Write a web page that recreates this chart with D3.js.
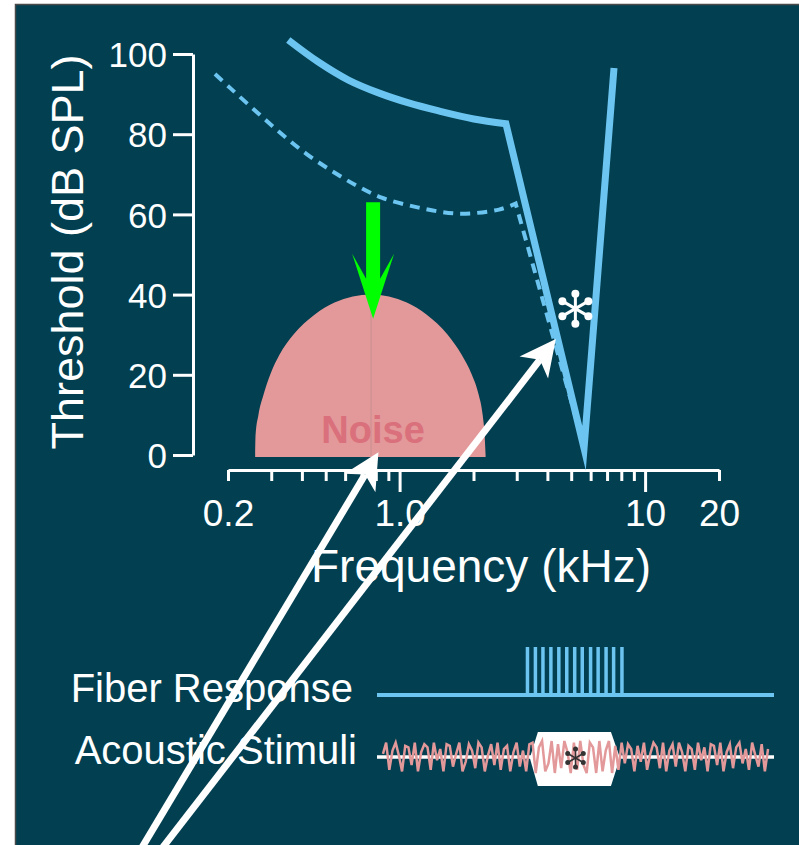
<!DOCTYPE html>
<html>
<head>
<meta charset="utf-8">
<script src="https://cdn.jsdelivr.net/npm/d3@7"></script>
<style>
  body { margin: 0; background: #fff; }
  svg text { font-family: "Liberation Sans", Arial, Helvetica, sans-serif; fill: #fff; }
</style>
</head>
<body>
<div id="container"></div>
<script>
/* DATA */
// tuning curve of the fiber in quiet: [kHz, dB SPL]  (smooth part, then straight V)
const quietCurve = [[0.352,103.5],[0.467,98.0],[0.619,93.5],[0.821,90.3],[1.088,87.8],[1.443,85.8],[2.005,83.8],[2.71,82.6]]
const quietTip = [[5.64,1.7],[7.47,96.5]]
// dashed curve
const dashedCurve = [[0.177,95.0],[0.206,91.3],[0.261,85.6],[0.330,80.1],[0.417,75.1],[0.528,70.9],[0.667,67.2],[0.845,64.2],[1.196,61.7],[1.74,60.2],[2.54,61.2],[2.97,62.7]]
const dashedTip = [[5.64,2.0]]
// noise band spectrum
const noiseSpectrum = [[0.258,0],[0.259,5],[0.266,10],[0.279,15],[0.297,20],[0.324,25],[0.369,30],[0.450,35],[0.543,38],[0.765,40],[1.07,38],[1.29,35],[1.57,30],[1.79,25],[1.97,20],[2.10,15],[2.18,10],[2.22,5],[2.24,0]]
const noisePeak = 0.765

const yTicks = [0, 20, 40, 60, 80, 100]
const xLabelled = [0.2, 1, 10, 20]
const xLabelText = ["0.2", "1.0", "10", "20"]
const xMinor = [0.3, 0.4, 0.5, 0.6, 0.7, 0.8, 0.9, 2, 3, 4, 5, 6, 7, 8, 9]
const xLong = [1, 10]

// annotations (kHz, dB)
const greenArrow = { f: 0.78, from: 63, to: 34 }
const star = { f: 5.2, db: 36.5 }
const whiteArrows = [
  { f0: 0.089, db0: -98, f1: 0.82, db1: 0.7 },
  { f0: 0.108, db0: -98, f1: 4.33, db1: 28.9 }
]

// lower panel, time in ms
const spikeTimes = [37.9, 39.9, 41.8, 43.8, 45.8, 47.8, 49.8, 51.7, 53.8, 55.7, 57.7, 59.6, 61.7]
const toneWindow = [38.5, 61.2]
const waveStart = 1.5, waveEnd = 98.5
const wave = [0.2,0.9,-0.8,0.4,0.9,0.1,-0.9,0.7,0.6,-0.5,0.9,-0.9,0.3,0.8,0.6,-0.8,0.9,-0.2,0.5,-0.9,
  0.8,0.7,-0.6,0.2,0.9,-0.9,-0.3,0.8,0.4,-0.7,0.9,0.6,-0.9,0.1,0.8,-0.5,0.9,-0.8,0.5,0.7,
  -0.9,0.3,0.9,-0.6,0.4,-0.9,0.8,
  0.9,-1.0,0.6,1.0,-0.9,-0.4,1.0,-1.0,0.8,-0.7,1.0,0.3,-1.0,0.9,-0.8,1.0,-0.5,-1.0,0.9,0.6,
  -1.0,1.0,-0.9,0.4,1.0,-1.0,0.7,-0.8,
  0.9,-0.4,0.8,0.5,-0.9,0.7,-0.3,0.9,-0.8,0.2,0.9,0.6,-0.7,0.9,-0.9,0.4,0.8,-0.6,0.9,0.3,
  -0.9,0.7,0.5,-0.8,0.9,-0.2,0.6,-0.9,0.8,0.7,-0.5,0.9,-0.9,0.3,0.8,-0.7,0.6,0.9,-0.4,0.5,
  -0.8,0.9,0.1,-0.6,0.8,-0.9,0.5]

/* CONSTANTS */
const width = 799, height = 845
const bg = "#023f50"
const blue = "#6cc4f0"
const pink = "#e3989a"

const svg = d3.select("#container").append("svg")
  .attr("width", width).attr("height", height)

// frame
svg.append("rect")
  .attr("x", 15.5).attr("y", 4.5).attr("width", 800).attr("height", 860)
  .attr("fill", bg).attr("stroke", "#4a4a4a").attr("stroke-width", 1.5)

/* SCALES */
const xScale = d3.scaleLog().domain([0.2, 20]).range([228, 719])
const yScale = d3.scaleLinear().domain([0, 100]).range([455, 54])
const tScale = d3.scaleLinear().domain([0, 100]).range([377, 774])

/* AXES */
const yAxis = d3.axisLeft(yScale).tickValues(yTicks).tickSize(20).tickSizeOuter(0).tickPadding(6)
const gy = svg.append("g").attr("transform", "translate(193,0)").call(yAxis)
gy.selectAll("text").style("font-size", "35px").attr("dy", "0.36em")

const xAxis = d3.axisBottom(xScale)
  .tickValues(xLabelled.concat(xMinor))
  .tickSize(11).tickSizeOuter(0)
  .tickFormat(d => { const i = xLabelled.indexOf(d); return i < 0 ? "" : xLabelText[i] })
const gx = svg.append("g").attr("transform", "translate(0,470)").call(xAxis)
gx.selectAll(".tick line").attr("y2", d => xLong.includes(d) ? 22 : 11)
gx.selectAll("text").style("font-size", "37px").attr("y", 56).attr("dy", 0)

svg.selectAll(".domain, .tick line").attr("stroke", "#fff").attr("stroke-width", 3)
svg.selectAll(".tick text").attr("fill", "#fff")

// axis titles
svg.append("text")
  .attr("transform", "translate(83,252) rotate(-90)")
  .attr("text-anchor", "middle")
  .style("font-size", "45px")
  .text("Threshold (dB SPL)")

svg.append("text")
  .attr("x", 481).attr("y", 582)
  .attr("text-anchor", "middle")
  .style("font-size", "46px")
  .text("Frequency (kHz)")

/* NOISE BAND */
const noiseArea = d3.area()
  .x(d => xScale(d[0]))
  .y0(yScale(0) + 2)
  .y1(d => yScale(d[1]))
  .curve(d3.curveMonotoneX)
svg.append("path").datum(noiseSpectrum)
  .attr("d", noiseArea).attr("fill", pink)
svg.append("line")
  .attr("x1", xScale(noisePeak)).attr("x2", xScale(noisePeak))
  .attr("y1", yScale(40)).attr("y2", yScale(0) + 2)
  .attr("stroke", "#c78f90").attr("stroke-width", 1)
svg.append("text")
  .attr("x", xScale(noisePeak) + 2).attr("y", 443)
  .attr("text-anchor", "middle")
  .style("font-size", "38px").style("font-weight", "bold")
  .style("fill", "#d9707b")
  .text("Noise")

/* CURVES */
// smooth part through the read points, then straight segments into the sharp tip
const smooth = d3.line().x(d => xScale(d[0])).y(d => yScale(d[1])).curve(d3.curveCatmullRom.alpha(0.5))
const tail = pts => pts.map(d => `L${xScale(d[0])},${yScale(d[1])}`).join("")

svg.append("path")
  .attr("d", smooth(dashedCurve) + tail(dashedTip))
  .attr("fill", "none")
  .attr("stroke", blue).attr("stroke-width", 4).attr("stroke-dasharray", "10 7")
svg.append("path")
  .attr("d", smooth(quietCurve) + tail(quietTip))
  .attr("fill", "none")
  .attr("stroke", blue).attr("stroke-width", 7).attr("stroke-linejoin", "miter")
  .attr("stroke-miterlimit", 10)

/* GREEN ARROW */
{
  const cx = xScale(greenArrow.f), y0 = yScale(greenArrow.from), tip = yScale(greenArrow.to)
  const barbY = tip - 65, notchY = tip - 36
  const pts = [[cx - 7, y0], [cx + 7, y0], [cx + 7, notchY - 4], [cx + 21, barbY], [cx, tip],
    [cx - 21, barbY], [cx - 7, notchY - 4]]
  svg.append("polygon").attr("points", pts.join(" ")).attr("fill", "#00ff00")
}

/* ASTERISK */
function asterisk(g, cx, cy, r, w, dot, color) {
  d3.range(6).forEach(i => {
    const a = Math.PI / 2 + i * Math.PI / 3
    const ex = cx + r * Math.cos(a), ey = cy - r * Math.sin(a)
    g.append("line").attr("x1", cx).attr("y1", cy).attr("x2", ex).attr("y2", ey)
      .attr("stroke", color).attr("stroke-width", w)
    g.append("circle").attr("cx", ex).attr("cy", ey).attr("r", dot).attr("fill", color)
  })
}
asterisk(svg, xScale(star.f), yScale(star.db), 15, 3, 4, "#fff")

/* WHITE ARROWS */
whiteArrows.forEach(a => {
  const x0 = xScale(a.f0), y0 = yScale(a.db0), x1 = xScale(a.f1), y1 = yScale(a.db1)
  const len = Math.hypot(x1 - x0, y1 - y0)
  const ux = (x1 - x0) / len, uy = (y1 - y0) / len
  const px = -uy, py = ux
  const back = 36, notch = 26, half = 18
  svg.append("line")
    .attr("x1", x0).attr("y1", y0)
    .attr("x2", x1 - ux * notch).attr("y2", y1 - uy * notch)
    .attr("stroke", "#fff").attr("stroke-width", 7)
  const pts = [[x1, y1],
    [x1 - ux * back + px * half, y1 - uy * back + py * half],
    [x1 - ux * notch, y1 - uy * notch],
    [x1 - ux * back - px * half, y1 - uy * back - py * half]]
  svg.append("polygon").attr("points", pts.join(" ")).attr("fill", "#fff")
})

/* LOWER PANEL */
svg.append("text").attr("x", 353).attr("y", 702).attr("text-anchor", "end")
  .style("font-size", "40px").text("Fiber Response")
svg.append("text").attr("x", 357).attr("y", 764).attr("text-anchor", "end")
  .style("font-size", "40px").text("Acoustic Stimuli")

// fiber response
svg.append("line")
  .attr("x1", tScale(0)).attr("x2", tScale(100)).attr("y1", 695).attr("y2", 695)
  .attr("stroke", blue).attr("stroke-width", 4)
svg.selectAll(".spike").data(spikeTimes).join("line")
  .attr("class", "spike")
  .attr("x1", d => tScale(d)).attr("x2", d => tScale(d))
  .attr("y1", 697).attr("y2", 647)
  .attr("stroke", blue).attr("stroke-width", 3.5)

// acoustic stimuli
svg.append("line")
  .attr("x1", tScale(0)).attr("x2", tScale(100)).attr("y1", 757).attr("y2", 757)
  .attr("stroke", "#fff").attr("stroke-width", 3.5)
{
  const l = tScale(toneWindow[0]), r = tScale(toneWindow[1])
  const hex = [[l + 8, 732], [r - 9, 732], [r, 758], [r - 9, 786], [l + 8, 786], [l, 758]]
  svg.append("polygon").attr("points", hex.join(" ")).attr("fill", "#fff")
}
const iScale = d3.scaleLinear().domain([0, wave.length - 1]).range([tScale(waveStart), tScale(waveEnd)])
const aScale = d3.scaleLinear().domain([-1, 1]).range([773, 741])
svg.append("path").datum(wave)
  .attr("d", d3.line().x((d, i) => iScale(i)).y(d => aScale(d)))
  .attr("fill", "none").attr("stroke", pink).attr("stroke-width", 2.5)
asterisk(svg, tScale(50), 758, 9, 1.5, 2.5, "#333")
</script>
</body>
</html>
